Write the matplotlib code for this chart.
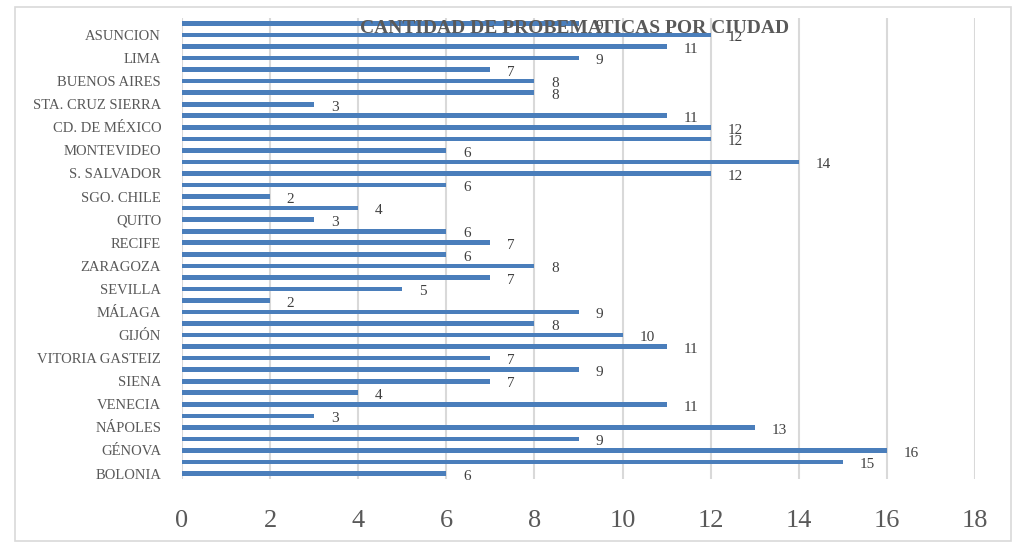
import matplotlib
matplotlib.use('Agg')
import matplotlib.pyplot as plt
from matplotlib.patches import Rectangle
import numpy as np

# bars listed bottom to top (40 bars, Excel shows every second city name)
values = [6, 15, 16, 9, 13, 3, 11, 4, 7, 9,
          7, 11, 10, 8, 9, 2, 5, 7, 8, 6,
          7, 6, 3, 4, 2, 6, 12, 14, 6, 12,
          12, 11, 3, 8, 8, 7, 9, 11, 12, 9]

# names that appear on the axis, from bottom to top
cities = ['BOLONIA', 'GÉNOVA', 'NÁPOLES', 'VENECIA', 'SIENA',
          'VITORIA GASTEIZ', 'GIJÓN', 'MÁLAGA', 'SEVILLA', 'ZARAGOZA',
          'RECIFE', 'QUITO', 'SGO. CHILE', 'S. SALVADOR', 'MONTEVIDEO',
          'CD. DE MÉXICO', 'STA. CRUZ SIERRA', 'BUENOS AIRES', 'LIMA', 'ASUNCION']

x_ticks = [0, 2, 4, 6, 8, 10, 12, 14, 16, 18]

bar_color = '#4a7ebb'
text_gray = '#595959'
grid_gray = '#d9d9d9'

plt.rcParams['font.family'] = ['Liberation Serif', 'DejaVu Serif']

fig = plt.figure(figsize=(10.27, 5.43), dpi=100)
ax = fig.add_axes([0.1772, 0.1173, 0.7722, 0.8501])

y = np.arange(len(values))
ax.barh(y, values, height=0.4, color=bar_color, zorder=3)

# value labels sit a bit right of the bar end, slightly low like Excel does
for yi, v in zip(y, values):
    ax.annotate(str(v), (v, yi), xytext=(12, -2), textcoords='offset points',
                ha='left', va='center', fontsize=11, color='#404040', zorder=4)

ax.set_xlim(0, 18)
ax.set_ylim(-0.5, len(values) - 0.5)
ax.set_xticks(x_ticks)
ax.set_xticklabels([str(t) for t in x_ticks])
ax.set_yticks(y[::2])
ax.set_yticklabels(cities)

ax.tick_params(axis='x', length=0, pad=22, labelsize=19, labelcolor=text_gray)
ax.tick_params(axis='y', length=0, pad=15, labelsize=10.5, labelcolor=text_gray)

ax.grid(axis='x', color=grid_gray, linewidth=1.5, zorder=0)
ax.set_axisbelow(True)
for s in ax.spines.values():
    s.set_visible(False)

fig.text(0.559, 0.947, 'CANTIDAD DE PROBEMATICAS POR CIUDAD', ha='center', va='center',
         fontsize=14, fontweight='bold', color=text_gray, zorder=10)

# light outer border of the chart area
fig.patches.append(Rectangle((0.0146, 0.0037), 0.9698, 0.983, transform=fig.transFigure,
                             fill=False, edgecolor=grid_gray, linewidth=1.2))

fig.savefig('out.png', dpi=100)
